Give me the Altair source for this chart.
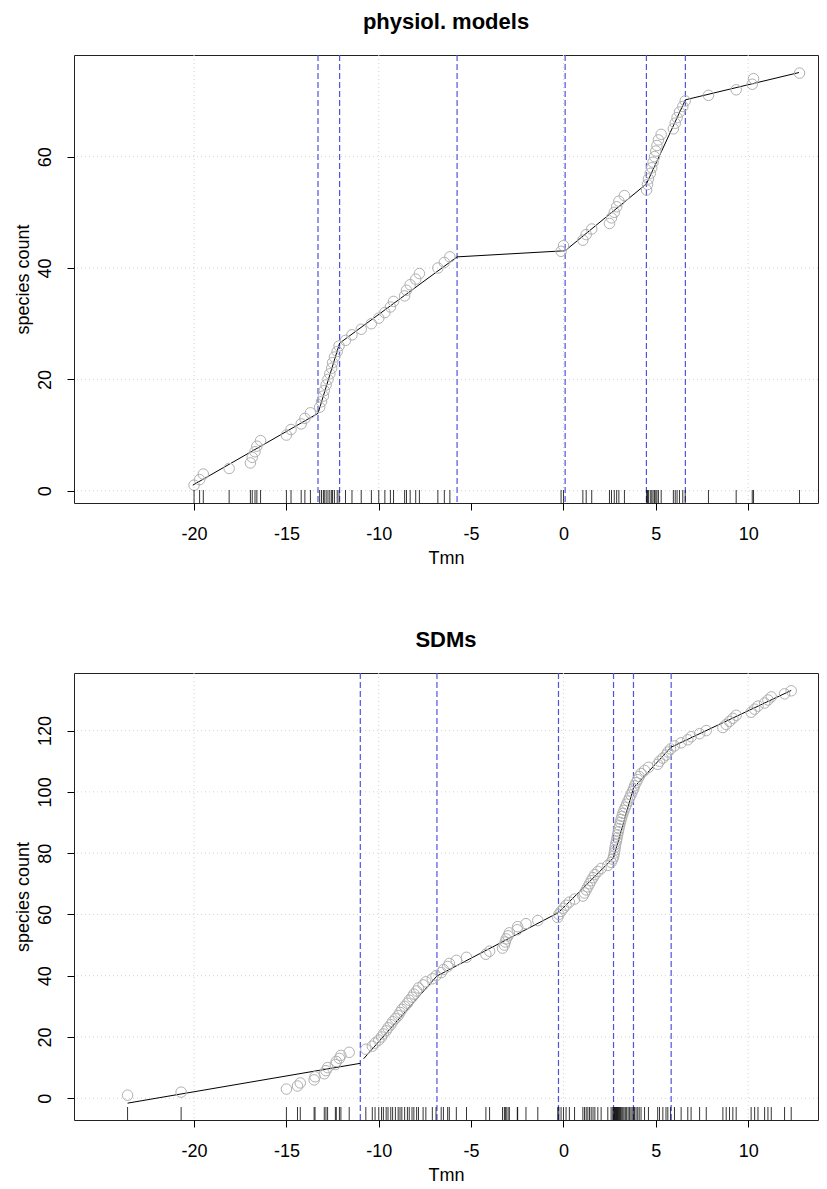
import altair as alt
import pandas as pd

# ---------------- data: physiol. models ----------------
phys_tmn = [-20.0, -19.7, -19.5, -18.1, -16.95, -16.85, -16.7, -16.6, -16.4, -15.0,
            -14.75, -14.2, -14.0, -13.7, -13.2, -13.1, -13.0, -12.95, -12.85, -12.75,
            -12.65, -12.55, -12.5, -12.4, -12.25, -12.15, -11.8, -11.45, -10.95, -10.4,
            -10.0, -9.67, -9.37, -9.2, -8.6, -8.5, -8.3, -8.0, -7.8, -6.8,
            -6.45, -6.15, -0.13, 0.0, 1.05, 1.23, 1.53, 2.49, 2.6, 2.75,
            2.88, 3.0, 3.3, 4.5, 4.55, 4.6, 4.7, 4.78, 4.85, 4.93,
            5.0, 5.06, 5.14, 5.29, 5.95, 6.05, 6.15, 6.28, 6.46, 6.59,
            7.85, 9.35, 10.22, 10.29, 12.78]
phys_count = [1, 2, 3, 4, 5, 6, 7, 8, 9, 10, 11, 12, 13, 14, 15, 16, 17, 18, 19, 20,
              21, 22, 23, 24, 25, 26, 27, 28, 29, 30, 31, 32, 33, 34, 35, 36, 37, 38, 39, 40,
              41, 42, 43, 44, 45, 46, 47, 48, 49, 50, 51, 52, 53, 54, 55, 56, 57, 58, 59, 60,
              61, 62, 63, 64, 65, 66, 67, 68, 69, 70, 71, 72, 73, 74, 75]
phys_breaks = [-13.29, -12.12, -5.76, 0.09, 4.49, 6.6]
phys_fit_x = [-20.07, -13.29, -12.12, -5.76, 0.09, 4.49, 6.6, 12.75]
phys_fit_y = [1.0, 13.9, 26.5, 42.0, 43.1, 55.1, 70.2, 75.1]
phys_fit_seg = [1, 1, 1, 1, 1, 1, 1, 1]

# ---------------- data: SDMs ----------------
sdm_tmn = [-23.6, -20.7, -15.0, -14.4, -14.25, -13.5, -13.45, -12.95, -12.86, -12.77,
           -12.35, -12.3, -12.13, -12.05, -11.6, -10.7, -10.35, -10.2, -10.0, -9.85,
           -9.75, -9.6, -9.5, -9.35, -9.25, -9.1, -8.95, -8.85, -8.75, -8.6,
           -8.45, -8.35, -8.2, -8.1, -7.95, -7.85, -7.6, -7.45, -7.1, -6.9,
           -6.62, -6.5, -6.27, -6.18, -5.8, -5.25, -4.2, -4.0, -3.3, -3.2,
           -3.15, -3.1, -3.0, -2.93, -2.5, -2.48, -2.03, -1.39, -0.31, -0.25,
           -0.13, 0.0, 0.14, 0.32, 0.6, 1.05, 1.14, 1.23, 1.32, 1.41,
           1.5, 1.6, 1.7, 1.86, 2.04, 2.4, 2.58, 2.67, 2.72, 2.75,
           2.78, 2.8, 2.83, 2.87, 2.9, 2.93, 2.97, 3.0, 3.04, 3.08,
           3.12, 3.17, 3.22, 3.28, 3.35, 3.42, 3.5, 3.57, 3.65, 3.72,
           3.8, 3.85, 3.93, 4.02, 4.1, 4.2, 4.39, 4.6, 5.1, 5.2,
           5.38, 5.55, 5.65, 5.8, 6.01, 6.37, 6.73, 6.91, 7.37, 7.73,
           8.63, 8.81, 8.99, 9.17, 9.35, 10.16, 10.35, 10.53, 10.89, 11.07,
           11.25, 11.97, 12.33]
sdm_count = [
    1, 2, 3, 4, 5, 6, 7, 8, 9, 10, 11, 12, 13, 14, 15, 16, 17, 18, 19, 20,
    21, 22, 23, 24, 25, 26, 27, 28, 29, 30, 31, 32, 33, 34, 35, 36, 37, 38, 39, 40,
    41, 42, 43, 44, 45, 46, 47, 48, 49, 50, 51, 52, 53, 54, 55, 56, 57, 58, 59, 60,
    61, 62, 63, 64, 65, 66, 67, 68, 69, 70, 71, 72, 73, 74, 75, 76, 77, 78, 79, 80,
    81, 82, 83, 84, 85, 86, 87, 88, 89, 90, 91, 92, 93, 94, 95, 96, 97, 98, 99, 100,
    101, 102, 103, 104, 105, 106, 107, 108, 109, 110, 111, 112, 113, 114, 115, 116, 117, 118, 119, 120,
    121, 122, 123, 124, 125, 126, 127, 128, 129, 130, 131, 132, 133]
sdm_breaks = [-11.0, -6.85, -0.27, 2.71, 3.79, 5.83]
sdm_fit_x = [-23.6, -11.0, -10.82, -6.85, -0.27, 2.71, 3.79, 5.83, 12.33]
sdm_fit_y = [-1.6, 11.4, 12.9, 39.9, 60.6, 78.5, 101.3, 114.6, 133.1]
sdm_fit_seg = [1, 1, 2, 2, 2, 2, 2, 2, 2]

# ---------------- axes ----------------
x_ticks = [-20, -15, -10, -5, 0, 5, 10]
x_grid = [-20, -10, 0, 10]
phys_y_ticks = [0, 20, 40, 60]
sdm_y_ticks = [0, 20, 40, 60, 80, 100, 120]

X_DOMAIN = [-26.5, 13.78]
FONT = "Liberation Sans"
W = 744


def panel(title, tmn, count, fx, fy, fseg, brk, ydom, yticks, h):
    pts = pd.DataFrame({"Tmn": tmn, "count": count})
    fit = pd.DataFrame({"Tmn": fx, "count": fy, "seg": fseg})
    xs = alt.Scale(domain=X_DOMAIN, nice=False, zero=False)
    ys = alt.Scale(domain=ydom, nice=False, zero=False)
    xax = alt.Axis(
        values=x_ticks, title="Tmn", grid=False, domain=False,
        tickSize=7, tickColor="black", labelFontSize=18, labelPadding=15,
        labelExpr="datum.value + ''",
        labelFont=FONT, labelColor="black", titleFont=FONT, titleFontSize=18,
        titleFontWeight="normal", titleColor="black", titlePadding=6,
        labelFlush=False)
    yax = alt.Axis(
        values=yticks, title="species count", grid=False, domain=False,
        tickSize=7, tickColor="black", labelFontSize=18, labelPadding=22,
        labelAngle=270, labelAlign="center", labelBaseline="middle",
        labelExpr="datum.value + ''",
        labelFont=FONT, labelColor="black", titleFont=FONT, titleFontSize=18,
        titleFontWeight="normal", titleColor="black", titlePadding=4,
        labelFlush=False)

    gx = alt.Chart(pd.DataFrame({"Tmn": x_grid})).mark_rule(
        color="#d3d3d3", strokeDash=[1, 3], strokeWidth=1
    ).encode(x=alt.X("Tmn:Q", scale=xs, axis=xax))
    gy = alt.Chart(pd.DataFrame({"count": yticks})).mark_rule(
        color="#d3d3d3", strokeDash=[1, 3], strokeWidth=1
    ).encode(y=alt.Y("count:Q", scale=ys, axis=yax))
    br = alt.Chart(pd.DataFrame({"Tmn": brk})).mark_rule(
        color="#5252e0", strokeDash=[6, 3], strokeWidth=1.2
    ).encode(x=alt.X("Tmn:Q", scale=xs, axis=xax))
    ln = alt.Chart(fit).mark_line(color="black", strokeWidth=1).encode(
        x=alt.X("Tmn:Q", scale=xs, axis=xax),
        y=alt.Y("count:Q", scale=ys, axis=yax),
        detail="seg:N",
    )
    pt = alt.Chart(pts).mark_point(
        shape="circle", filled=False, color="#b0b0b0", size=110, strokeWidth=1, opacity=1
    ).encode(
        x=alt.X("Tmn:Q", scale=xs, axis=xax),
        y=alt.Y("count:Q", scale=ys, axis=yax),
    )
    rug = alt.Chart(pd.DataFrame({"Tmn": tmn})).mark_rule(
        color="black", strokeWidth=0.8
    ).encode(
        x=alt.X("Tmn:Q", scale=xs, axis=xax),
        y=alt.value(h),
        y2=alt.value(h - 13),
    )
    return alt.layer(gx, gy, br, ln, pt, rug).properties(
        width=W, height=h,
        title=alt.TitleParams(title, fontSize=22, font=FONT, fontWeight="bold",
                              anchor="middle", frame="group", offset=20, color="black"),
    )


top = panel("physiol. models", phys_tmn, phys_count, phys_fit_x, phys_fit_y,
            phys_fit_seg, phys_breaks, [-2.2, 78.25], phys_y_ticks, 448)
bottom = panel("SDMs", sdm_tmn, sdm_count, sdm_fit_x, sdm_fit_y,
               sdm_fit_seg, sdm_breaks, [-7.1, 138.8], sdm_y_ticks, 447)

chart = alt.vconcat(top, bottom, spacing=60).properties(
    padding={"left": 5, "top": 2, "right": 0, "bottom": 0}
).configure(background="white").configure_view(stroke="#222222", strokeWidth=1)

chart.save("out.html", embed_options={"renderer": "svg", "actions": False})
